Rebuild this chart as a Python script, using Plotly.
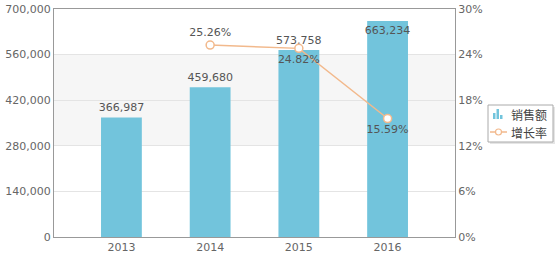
import plotly.graph_objects as go

years = ["2013", "2014", "2015", "2016"]
sales = [366987, 459680, 573758, 663234]
sales_pos = ["outside", "outside", "outside", "inside"]
growth_years = ["2014", "2015", "2016"]
growth = [0.2526, 0.2482, 0.1559]
growth_pos = ["top center", "bottom center", "bottom center"]
left_ticks = [0, 140000, 280000, 420000, 560000, 700000]
right_ticks = [0, 0.06, 0.12, 0.18, 0.24, 0.30]
legend_names = ["销售额", "增长率"]

FONT = "DejaVu Sans"
BAR = "#72c4dc"
LINE = "#f2b98c"
fig = go.Figure()

fig.add_trace(go.Bar(
    x=years, y=sales, name=legend_names[0],
    marker=dict(color=BAR, line=dict(width=0)),
    width=0.46,
    text=[f"{v:,}" for v in sales], textposition=sales_pos,
    insidetextanchor="end", textangle=0,
    textfont=dict(family=FONT, size=11, color="#555"),
    insidetextfont=dict(family=FONT, size=11, color="#555"),
    outsidetextfont=dict(family=FONT, size=11, color="#555"),
    constraintext="none",
    cliponaxis=False,
))
fig.add_trace(go.Scatter(
    x=growth_years, y=growth, name=legend_names[1], yaxis="y2",
    mode="lines+markers+text",
    line=dict(color=LINE, width=1.5),
    marker=dict(size=8, color="white", line=dict(color=LINE, width=1.5)),
    text=[f"{v*100:.2f}%" for v in growth], textposition=growth_pos,
    textfont=dict(family=FONT, size=11, color="#555"),
    cliponaxis=False,
))

fig.add_shape(type="rect", xref="paper", yref="y", x0=0, x1=1, y0=280000, y1=560000,
              fillcolor="#f6f6f6", line=dict(width=0), layer="below")

# manual legend (pixel -> paper helpers)
def px(x):
    return (x - 54) / 401.0
def py(y):
    return (237 - y) / 228.0

fig.add_shape(type="rect", xref="paper", yref="paper", x0=px(490), x1=px(555), y0=py(144), y1=py(107),
              fillcolor="rgba(0,0,0,0.10)", line=dict(width=0))
fig.add_shape(type="rect", xref="paper", yref="paper", x0=px(488), x1=px(553), y0=py(142), y1=py(105),
              fillcolor="white", line=dict(color="#aaa", width=1))
# bar icon
for x0, x1, h in [(493, 495.5, 6), (496.5, 499, 10), (500, 502.5, 4)]:
    fig.add_shape(type="rect", xref="paper", yref="paper", x0=px(x0), x1=px(x1), y0=py(119), y1=py(119 - h),
                  fillcolor=BAR, line=dict(width=0))
# line icon
fig.add_shape(type="line", xref="paper", yref="paper", x0=px(490), x1=px(507), y0=py(132), y1=py(132),
              line=dict(color=LINE, width=1.5))
fig.add_shape(type="circle", xref="paper", yref="paper", x0=px(495.5), x1=px(501.5), y0=py(135), y1=py(129),
              fillcolor="white", line=dict(color=LINE, width=1.2))
for name, yy in zip(legend_names, [114, 132]):
    fig.add_annotation(x=px(509), y=py(yy), xref="paper", yref="paper", text=name,
                       xanchor="left", yanchor="middle", showarrow=False,
                       font=dict(family="Noto Sans CJK SC", size=12, color="#444"))

fig.update_layout(
    width=556, height=258,
    margin=dict(l=54, r=101, t=9, b=21, autoexpand=False),
    paper_bgcolor="white", plot_bgcolor="white",
    font=dict(family=FONT, size=11, color="#666"),
    showlegend=False,
    xaxis=dict(range=[-0.76, 3.76], showline=True, linecolor="#999", linewidth=1,
               mirror=True, ticks="", automargin=False, tickfont=dict(size=11, color="#666")),
    yaxis=dict(range=[0, 700000], tickvals=left_ticks, tickformat=",d",
               showgrid=True, gridcolor="#e4e4e4", gridwidth=1, zeroline=False,
               showline=True, linecolor="#999", linewidth=1, ticks="", automargin=False,
               tickfont=dict(size=11, color="#666")),
    yaxis2=dict(range=[0, 0.30], tickvals=right_ticks, tickformat=".0%",
                overlaying="y", side="right", showgrid=False, zeroline=False,
                showline=True, linecolor="#999", linewidth=1, ticks="", automargin=False,
                tickfont=dict(size=11, color="#666")),
)

fig.write_html("out.html")
